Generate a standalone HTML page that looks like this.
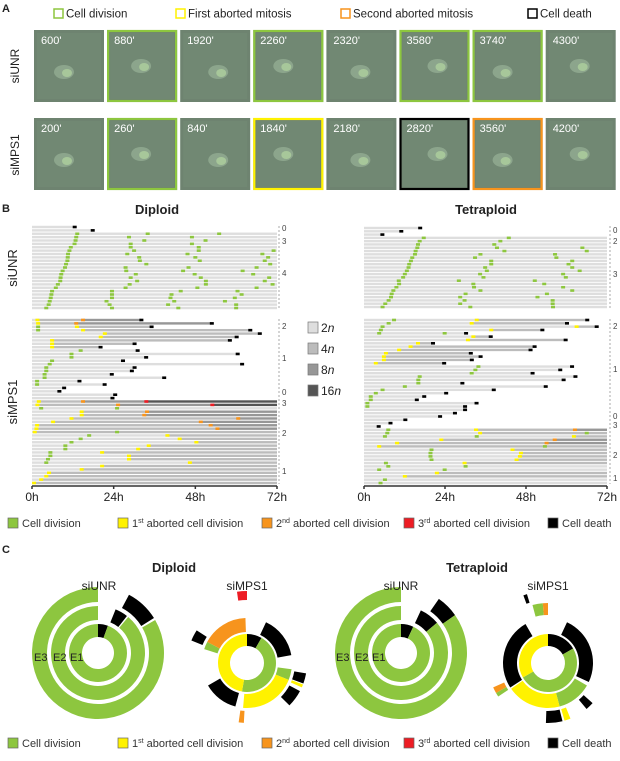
<!DOCTYPE html>
<html><head><meta charset="utf-8"><style>
html,body{margin:0;padding:0;background:#fff}
svg{display:block;font-family:"Liberation Sans",Arial,sans-serif}
</style></head><body>
<svg id="fig" width="620" height="761" viewBox="0 0 620 761" xmlns="http://www.w3.org/2000/svg"></svg>
<script>
// ---------- DATA ----------
// Panel A
const tileTimesUNR = ["600'","880'","1920'","2260'","2320'","3580'","3740'","4300'"];
const tileBorderUNR = ["", "g", "", "g", "", "g", "g", ""];
const tileTimesMPS = ["200'","260'","840'","1840'","2180'","2820'","3560'","4200'"];
const tileBorderMPS = ["", "g", "", "y", "", "k", "o", ""];
// Panel B rows: [endHour, t, code, t, code, ...]  (end<72 => cell death)
const dipUNR = [
[12.4],[17.7],
[72,13.3,'g',34,'g',55,'g'],[72,13,'g',28.5,'g',47,'g'],[72,12.8,'g',33,'g',51,'g'],[72,12.5,'g',29,'g',47,'g'],
[72,11.4,'g',29,'g',49,'g'],[72,11,'g',30,'g',49,'g',71,'g'],[72,10.6,'g',28,'g',45.7,'g',67.7,'g'],[72,10.5,'g',31.5,'g',48,'g',69.4,'g'],
[72,10.4,'g',31.7,'g',49.3,'g',68.4,'g'],[72,10,'g',33.6,'g',70,'g'],[72,9.7,'g',27.5,'g',46,'g',66,'g'],[72,9,'g',27.7,'g',44.4,'g',61.9,'g'],
[72,8.6,'g',30.5,'g',47.8,'g',65,'g'],[72,8.4,'g',29,'g',49.6,'g',69.7,'g'],[72,8.3,'g',30.9,'g',51.1,'g',68.4,'g'],[72,7.6,'g',28.7,'g',51.1,'g',70.7,'g'],
[72,7,'g',27.5,'g',48.6,'g',66,'g'],[72,5.9,'g',23.5,'g',43.7,'g',60.4,'g'],[72,5.7,'g',23.5,'g',41,'g',61.6,'g'],[72,5.5,'g',23.5,'g',40.7,'g',59.6,'g'],
[72,5.2,'g',21.9,'g',41.8,'g',56.7,'g'],[72,4.9,'g',22.8,'g',40,'g',60,'g'],[72,4.2,'g',23.5,'g',43,'g',60,'g']
];
const dipMPS = [
[32,1.6,'y',15,'o'],[52.7,1.8,'y',13,'o'],[35,1.8,'g',13.2,'y'],[64,1.8,'g',15,'y'],[66.8,21.4,'y'],[60,20.2,'y'],
[58,5.9,'y'],[30,5.9,'y'],[20,5.9,'y'],[30.9,14.3,'g'],[60.3,11.6,'g'],[33.4,11.6,'g'],[26.6,5.9,'g'],[61.6,5.2,'g'],
[30,4.2,'g'],[29.2,4.2,'g'],[23.3,3.7,'g'],[38.7,3.7,'g'],[13.8,1.5,'g'],[21.2,1.5,'g'],[9.3],[7.9],[24.3],[23.5],
[72,2,'y',15,'o',33.6,'r'],[72,1.6,'y',25.3,'o',53,'r'],[72,2.7,'g',25,'g'],[72,14.6,'y',33.8,'o'],[72,14.6,'y',33,'o'],
[72,11.6,'y',60.6,'o'],[72,6.2,'y',49.6,'o'],[72,1.5,'y',52.5,'o'],[72,1.3,'y',54.5,'o'],[72,0.8,'y',25,'g'],
[72,16.8,'g',39.8,'y'],[72,14.3,'g',43.4,'y'],[72,11.6,'g',48.3,'y'],[72,9.8,'g',34.3,'y'],[72,9.8,'g',31.2,'y'],
[72,5.4,'g',20.6,'y'],[72,5.4,'g',28.5,'y'],[72,4.7,'g',28.5,'y'],[72,4.2,'g',46.4,'y'],[72,20.6,'y'],[72,14.6,'y'],
[72,5,'y'],[72,4.2,'y'],[72,2.7,'y'],[72,0.6,'y']
];
const tetUNR = [
[16.5],[10.9],[5.3],
[72,17.7,'g',42.9,'g'],[72,16.5,'g',40.4,'g'],[72,16,'g',38.6,'g'],[72,15.8,'g',39.4,'g',64.7,'g'],[72,15.3,'g',41.6,'g',66,'g'],
[72,15.1,'g',34.5,'g',56.6,'g'],[72,14.3,'g',32.9,'g',57,'g'],[72,13.9,'g',37.7,'g',61.7,'g'],[72,13.4,'g',37.7,'g',60.6,'g'],
[72,13.2,'g',35.9,'g',61.7,'g'],[72,12.7,'g',36.4,'g',63.9,'g'],[72,12.1,'g',34.4,'g',59,'g'],[72,11.6,'g',35.4,'g',59.8,'g'],
[72,10.3,'g',28.1,'g',50.6,'g'],[72,10.4,'g',32.4,'g',53.4,'g'],[72,9.6,'g',32.6,'g',59,'g'],[72,8.7,'g',34.5,'g',61.7,'g'],
[72,8.2,'g',30.1,'g',54.2,'g'],[72,8,'g',28.5,'g',51.4,'g'],[72,7.3,'g',29.8,'g',55.9,'g'],[72,6.3,'g',28.5,'g',55.9,'g'],[72,5.5,'g',31.5,'g',56,'g']
];
const tetMPS = [
[66,8.9,'g',33.4,'y'],[60,7.3,'g',31.9,'y'],[68.8,5.5,'g',63,'y'],[52.7,5,'g',37.7,'y'],[30.1,4.5,'g',23.9,'g'],
[37.4,32.4,'y'],[59.6,30.8,'y'],[20.3,16,'y'],[50.4,13.8,'y'],[49.2,10.4,'y'],[31.5,6.5,'y'],[34.4,5.9,'y'],[31.8,5.9,'y'],[23.6,3.5,'y'],
[61.5,33.9,'g'],[58,33,'g'],[49.8,31.9,'g'],[62.5,16.5,'g'],[59,16.1,'g'],[29,16.1,'g'],[53.7,12.1,'g'],[38.3,5.5,'g'],
[24.2,3.5,'g'],[17.7,2,'g'],[15.5,2,'g'],[33.2,1,'g'],[29.8,1,'g'],[29.8],[26.8],[22.4],[12.1],[7.7],[4.2],
[72,7.2,'g',33.2,'y',62.5,'o'],[72,6.9,'g',34.4,'y',66,'g'],[72,6.2,'g',33.4,'g',62.2,'y'],[72,22.9,'y',56.5,'o'],[72,9.8,'y',54.1,'o'],
[72,4.5,'y',53.6,'g'],[72,20,'g',44,'y'],[72,19.7,'g',46.5,'y'],[72,19.7,'g',46.2,'y'],[72,20,'g',45.2,'y'],[72,6.5,'g',29.8,'y'],
[72,7.2,'g',30.1,'g'],[72,4.5,'g',23.9,'g'],[72,21.6,'y'],[72,12.1,'y'],[72,6.2,'g'],[72,4.9,'g']
];
const hourTicks = [0,24,48,72];
const hourTickLabels = ["0h","24h","48h","72h"];
const ploidyLabels = ["2","4","8","16"];
const dipBracketLabels = [["0",228],["3",241],["4",273],["2",326],["1",358],["0",392],["3",403],["2",433],["1",471]];
const tetBracketLabels = [["0",230],["2",241],["3",274],["2",326],["1",369],["0",416],["3",425],["2",455],["1",478]];
// Panel C segments: [ring, startDeg, endDeg, code]
const sunDipUNR = [[1,0,20,'k'],[1,20,360,'g'],[2,22,38,'k'],[2,40,360,'g'],[3,28,58,'k'],[3,60,360,'g']];
const sunDipMPS = [[1,0,30,'k'],[1,30,190,'g'],[1,190,360,'y'],[2,25,80,'k'],[2,98,112,'g'],[2,112,185,'y'],[2,195,240,'k'],[2,288,298,'g'],[2,298,358,'o'],
 [3,100,110,'k'],[3,111,114,'y'],[3,118,135,'k'],[3,183,188,'o'],[3,292,303,'k'],[4,352,360,'r']];
const sunTetUNR = [[1,0,25,'k'],[1,25,360,'g'],[2,25,50,'k'],[2,50,360,'g'],[3,35,55,'k'],[3,55,360,'g']];
const sunTetMPS = [[1,0,60,'k'],[1,60,240,'g'],[1,240,360,'y'],[2,25,115,'k'],[2,120,165,'g'],[2,165,235,'y'],[2,237,330,'k'],
 [3,345,355,'g'],[3,355,360,'o'],[3,132,140,'k'],[3,158,164,'y'],[3,166,182,'k'],[3,236,240,'g'],[3,240,246,'o'],[4,340,343,'k']];

// ---------- RENDER ----------
const svg = document.getElementById('fig');
const NS = 'http://www.w3.org/2000/svg';
const COL = {g:'#8dc63f', y:'#fff200', o:'#f7941d', r:'#ed1c24', k:'#000000'};
function mk(tag, attrs, parent){const e=document.createElementNS(NS,tag);for(const k in attrs)e.setAttribute(k,attrs[k]);(parent||svg).appendChild(e);return e;}
function txt(x,y,s,size,opts,parent){const t=mk('text',Object.assign({x:x,y:y,'font-size':size,fill:'#222'},opts||{}),parent);t.textContent=s;return t;}

// Panel A
let t=txt(2,12,'A',11,{'font-weight':'bold'});


const aLeg=[[54,'g','Cell division'],[176,'y','First aborted mitosis'],[341,'o','Second aborted mitosis'],[528,'k','Cell death']];
aLeg.forEach(l=>{
  const g=mk('g',{});
  
  
  mk('rect',{x:l[0],y:9,width:9,height:9,fill:'#fff',stroke:COL[l[1]],'stroke-width':1.5},g);
  txt(l[0]+12,17.5,l[2],11.5,{},g);
});
function tiles(y,times,borders,name){
  times.forEach((tm,i)=>{
    const x=34+i*73.1;
    const g=mk('g',{});
    
    
    mk('rect',{x:x,y:y,width:70,height:72,fill:'#6e8370'},g);
    mk('rect',{x:x+3,y:y+3,width:64,height:66,fill:'#718873'},g);
    mk('ellipse',{cx:x+30+(i%3)*4,cy:y+42-(i%2)*6,rx:10,ry:7,fill:'#8fa98f',opacity:0.9},g);
    mk('ellipse',{cx:x+33+(i%3)*4,cy:y+43-(i%2)*6,rx:5,ry:4,fill:'#a7c79a'},g);
    if(borders[i]) mk('rect',{x:x+1,y:y+1,width:68,height:70,fill:'none',stroke:COL[borders[i]],'stroke-width':2.2},g);
    txt(x+7,y+14,tm,11,{fill:'#fff'},g);
  });
}
tiles(30,tileTimesUNR,tileBorderUNR,'siunr');
tiles(118,tileTimesMPS,tileBorderMPS,'simps1');
t=txt(19,66,'siUNR',12,{transform:'rotate(-90 19 66)','text-anchor':'middle'});


t=txt(19,155,'siMPS1',12,{transform:'rotate(-90 19 155)','text-anchor':'middle'});



// Panel B
t=txt(2,212,'B',11,{'font-weight':'bold'});


const PL=['#dedede','#bcbcbc','#979797','#555555'];
function lineage(rows,x0,x1,yTop,yBot,name){
  const sx=h=>x0+(x1-x0)*h/72;
  const step=(yBot-yTop)/(rows.length-1);
  rows.forEach((r,i)=>{
    const y=yTop+i*step; const end=r[0];
    const g=mk('g',{});
    
    
    let lvl=0, from=0;
    const ev=[]; for(let j=1;j<r.length;j+=2) ev.push([r[j],r[j+1]]);
    ev.forEach(e=>{ if(e[1]!=='g'){ mk('rect',{x:sx(from),y:y-1.2,width:Math.max(0,sx(e[0])-sx(from)),height:2.4,fill:PL[lvl]},g); from=e[0]; lvl=Math.min(3,lvl+1);} });
    mk('rect',{x:sx(from),y:y-1.2,width:Math.max(0,sx(end)-sx(from)),height:2.4,fill:PL[lvl]},g);
    ev.forEach(e=>{
      const m=mk('rect',{x:sx(e[0])-2,y:y-1.3,width:4,height:2.6,fill:COL[e[1]]},g);
      
      
    });
    if(end<72){
      const d=mk('rect',{x:sx(end)-1.5,y:y-1.3,width:4,height:2.6,fill:'#000'},g);
      
      
    }
  });
}
function axis(x0,x1,y,name){
  const g=mk('g',{});
  
  
  mk('line',{x1:x0,y1:y,x2:x1,y2:y,stroke:'#333','stroke-width':1.5},g);
  hourTicks.forEach((h,i)=>{
    const x=x0+(x1-x0)*h/72;
    mk('line',{x1:x,y1:y,x2:x,y2:y+3,stroke:'#333','stroke-width':1.5},g);
    txt(x,y+15,hourTickLabels[i],12,{'text-anchor':'middle'},g);
  });
}
function brackets(x,labels,name){
  const g=mk('g',{});
  
  
  mk('line',{x1:x,y1:226,x2:x,y2:309,stroke:'#aaa','stroke-dasharray':'2,2'},g);
  mk('line',{x1:x,y1:319,x2:x,y2:484,stroke:'#aaa','stroke-dasharray':'2,2'},g);
  labels.forEach(l=>txt(x+3,l[1]+3,l[0],8,{fill:'#444'},g));
}
t=txt(157,214,'Diploid',13,{'font-weight':'bold','text-anchor':'middle'});


t=txt(486,214,'Tetraploid',13,{'font-weight':'bold','text-anchor':'middle'});


t=txt(17,268,'siUNR',13,{transform:'rotate(-90 17 268)','text-anchor':'middle'});


t=txt(17,402,'siMPS1',13,{transform:'rotate(-90 17 402)','text-anchor':'middle'});


lineage(dipUNR,32,277,227,308,'diploid-siunr');
lineage(dipMPS,32,277,320,483,'diploid-simps1');
lineage(tetUNR,364,607,228,307,'tetraploid-siunr');
lineage(tetMPS,364,607,320,483,'tetraploid-simps1');
axis(32,277,486,'diploid-x-axis');
axis(364,607,486,'tetraploid-x-axis');
brackets(279,dipBracketLabels,'diploid-generation-brackets');
brackets(610,tetBracketLabels,'tetraploid-generation-brackets');
ploidyLabels.forEach((p,i)=>{
  const g=mk('g',{});
  
  
  const y=322+i*21;
  mk('rect',{x:308,y:y,width:10,height:11,fill:PL[i],stroke:'#777','stroke-width':0.7},g);
  const tt=txt(321,y+10,p,12,{},g);
  const it=mk('tspan',{'font-style':'italic'},tt); it.textContent='n';
});
function bottomLegend(y,name){
  const items=[[8,'g','Cell division',null],[118,'y','1',"st aborted cell division"],[262,'o','2',"nd aborted cell division"],[404,'r','3',"rd aborted cell division"],[548,'k','Cell death',null]];
  items.forEach(l=>{
    const g=mk('g',{});
    
    
    mk('rect',{x:l[0],y:y-9,width:10,height:10,fill:COL[l[1]],stroke:'#666','stroke-width':0.7},g);
    const tt=txt(l[0]+14,y,l[2],11,{fill:'#333'},g);
    if(l[3]){const sup=mk('tspan',{'font-size':7,dy:-4},tt);sup.textContent=l[3].slice(0,2);const rest=mk('tspan',{dy:4},tt);rest.textContent=l[3].slice(2);}
  });
}
bottomLegend(527,'legend-b');

// Panel C
t=txt(2,553,'C',11,{'font-weight':'bold'});


t=txt(174,572,'Diploid',13,{'font-weight':'bold','text-anchor':'middle'});


t=txt(477,572,'Tetraploid',13,{'font-weight':'bold','text-anchor':'middle'});


function arcPath(cx,cy,r0,r1,a0,a1){
  if(a1-a0>=359.9)a1=a0+359.9;
  const p=(r,a)=>[cx+r*Math.sin(a*Math.PI/180),cy-r*Math.cos(a*Math.PI/180)];
  const L=(a1-a0)>180?1:0;
  const [x1,y1]=p(r1,a0),[x2,y2]=p(r1,a1),[x3,y3]=p(r0,a1),[x4,y4]=p(r0,a0);
  return `M${x1},${y1}A${r1},${r1} 0 ${L} 1 ${x2},${y2}L${x3},${y3}A${r0},${r0} 0 ${L} 0 ${x4},${y4}Z`;
}
function sunburst(cx,cy,segs,radii,name){
  segs.forEach(s=>{
    const rr=radii[s[0]-1];
    const p=mk('path',{d:arcPath(cx,cy,rr[0],rr[1],s[1],s[2]),fill:COL[s[3]]});
    
    
  });
}
const RU=[[16,29],[33,47],[51,66]];
const RM=[[17,29],[31,45],[48,60],[63,72]];
sunburst(98,653,sunDipUNR,RU,'diploid-siunr');
sunburst(247,663,sunDipMPS,RM,'diploid-simps1');
sunburst(401,653,sunTetUNR,RU,'tetraploid-siunr');
sunburst(548,663,sunTetMPS,RM,'tetraploid-simps1');
[[99,'siUNR'],[247,'siMPS1'],[401,'siUNR'],[548,'siMPS1']].forEach(l=>{
  const tt=txt(l[0],590,l[1],12,{'text-anchor':'middle'});
  
  
});
[0,302].forEach(dx=>{
  [['E3',34],['E2',53],['E1',70]].forEach(e=>{
    const tt=txt(e[1]+dx,661,e[0],11,{fill:'#222'});
    
    
  });
});
bottomLegend(747,'legend-c');
</script>
</body></html>
